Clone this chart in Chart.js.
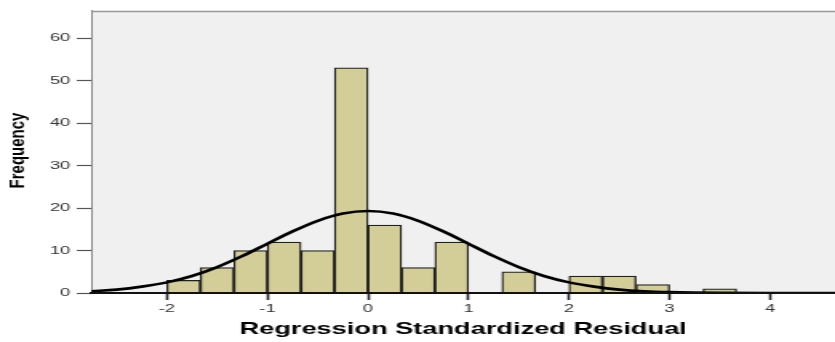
<!DOCTYPE html>
<html>
<head>
<meta charset="utf-8">
<script src="https://cdn.jsdelivr.net/npm/chart.js@4"></script>
<style>
  html, body { margin: 0; padding: 0; background: #ffffff; overflow: hidden; }
  #wrap { width: 835px; height: 342px; position: relative; overflow: hidden; }
  #c { position: absolute; left: 0; top: 0; transform-origin: 0 0; transform: scaleX(1.59962); }
</style>
</head>
<body>
<div id="wrap"><canvas id="c" width="522" height="342"></canvas></div>
<script>
// ---- data ----
const binStarts = [-2, -5/3, -4/3, -1, -2/3, -1/3, 0, 1/3, 2/3, 1, 4/3, 5/3, 2, 7/3, 8/3, 3, 10/3];
const counts    = [ 3,    6,   10, 12,   10,   53, 16,   6,  12, 0,   5,   0, 4,   4,   2, 0,    1];
const binWidth  = 1/3;

// normal curve
const curveX = [-2.75, -2.5, -2.25, -2, -1.75, -1.5, -1.25, -1, -0.75, -0.5, -0.25, 0, 0.25, 0.5, 0.75, 1, 1.25, 1.5, 1.75, 2, 2.25, 2.5, 2.75, 3, 3.25, 3.5, 4, 4.65];
const curveY = [0.4, 0.8, 1.5, 2.5, 4.0, 6.1, 8.7, 11.6, 14.5, 17.0, 18.7, 19.3, 18.7, 17.0, 14.5, 11.6, 8.7, 6.1, 4.0, 2.5, 1.5, 0.8, 0.4, 0.2, 0.1, 0.05, 0, 0];

const xTicks = [-2, -1, 0, 1, 2, 3, 4];
const yTicks = [0, 10, 20, 30, 40, 50, 60];
const xTitle = 'Regression Standardized Residual';
const yTitle = 'Frequency';

const FAMILY = "'Liberation Sans', Arial, Helvetica, sans-serif";

const framePlugin = {
  id: 'frame',
  beforeDraw(chart) {
    const { ctx, chartArea: a } = chart;
    ctx.save();
    ctx.fillStyle = '#f0f0f0';
    ctx.fillRect(a.left, a.top, a.right - a.left, a.bottom - a.top);
    ctx.strokeStyle = '#999999';
    ctx.lineWidth = 1.5;
    ctx.beginPath();
    ctx.moveTo(a.left, a.top + 0.5);
    ctx.lineTo(a.right, a.top + 0.5);
    ctx.stroke();
    ctx.restore();
  },
  afterDraw(chart) {
    const { ctx } = chart;
    ctx.save();
    ctx.translate(12, 150.5);
    ctx.rotate(-Math.PI / 2);
    ctx.scale(1, 0.8);
    ctx.font = 'bold 15px ' + FAMILY;
    ctx.fillStyle = '#000000';
    ctx.textAlign = 'center';
    ctx.textBaseline = 'middle';
    ctx.fillText(yTitle, 0, 0);
    ctx.restore();
  }
};

new Chart(document.getElementById('c'), {
  type: 'bar',
  data: {
    datasets: [
      {
        type: 'line',
        order: 0,
        data: curveX.map((x, i) => ({ x: x, y: curveY[i] })),
        borderColor: '#000000',
        borderWidth: 2.6,
        pointRadius: 0,
        fill: false,
        cubicInterpolationMode: 'monotone'
      },
      {
        type: 'bar',
        order: 1,
        data: binStarts.map((s, i) => ({ x: s + binWidth / 2, y: counts[i] })),
        backgroundColor: '#d3ce97',
        borderColor: '#202020',
        borderWidth: 1.3,
        borderSkipped: 'start',
        barPercentage: 1,
        categoryPercentage: 1
      }
    ]
  },
  options: {
    responsive: false,
    animation: false,
    devicePixelRatio: 1,
    layout: { padding: { top: 10, right: 0, left: 0, bottom: 0 } },
    plugins: { legend: { display: false }, tooltip: { enabled: false } },
    scales: {
      x: {
        type: 'linear',
        min: -2.753,
        max: 4.646,
        offset: false,
        afterBuildTicks: s => { s.ticks = xTicks.map(v => ({ value: v })); },
        afterFit: s => { s.height = 49; },
        grid: { display: true, drawOnChartArea: false, drawTicks: true, tickLength: 7, tickColor: '#222222', tickWidth: 1.6, offset: false },
        border: { display: true, color: '#111111', width: 2, z: 1 },
        ticks: { font: { family: FAMILY, size: 11.5 }, color: '#333333', padding: 2, maxRotation: 0, autoSkip: false },
        title: { display: true, text: xTitle, font: { family: FAMILY, size: 17, weight: 'bold' }, color: '#000000', padding: { top: 0, bottom: 2 } }
      },
      y: {
        type: 'linear',
        min: 0,
        max: 66.4,
        afterBuildTicks: s => { s.ticks = yTicks.map(v => ({ value: v })); },
        afterFit: s => { s.width = 57; },
        grid: { display: true, drawOnChartArea: false, drawTicks: true, tickLength: 9, tickColor: '#555555', tickWidth: 1.2 },
        border: { display: true, color: '#888888', width: 1 },
        ticks: { font: { family: FAMILY, size: 11.5 }, color: '#333333', padding: 4 }
      }
    }
  },
  plugins: [framePlugin]
});
</script>
</body>
</html>
